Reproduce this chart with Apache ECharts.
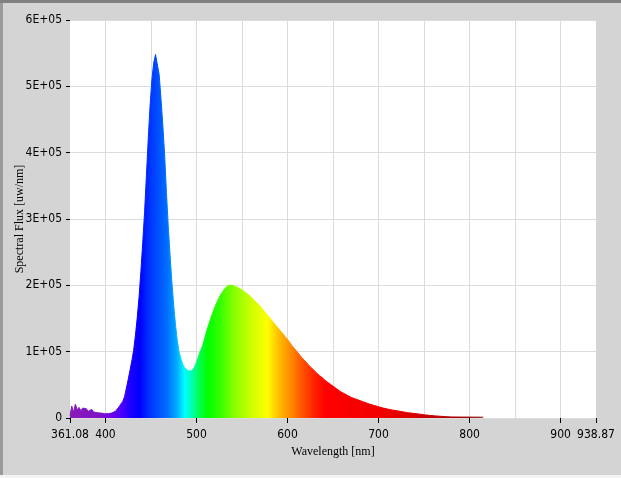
<!DOCTYPE html>
<html><head><meta charset="utf-8">
<script src="https://cdn.jsdelivr.net/npm/echarts@6/dist/echarts.min.js"></script>
<style>html,body{margin:0;padding:0;background:#d4d4d4;overflow:hidden}#c{width:621px;height:478px}</style>
</head><body><div id="c"></div>
<script>
// ---- data ----
const wavelengths = [361.08,363,365,367,369,371,373,375,377,379,381,383,385,387,389,391,393,395,397,399,401,403,405,407,409,411,413,415,417,419,421,423,425,427,429,431,433,435,437,439,441,443,445,447,449,451,453,455,456,457,459,461,463,465,467,469,471,473,475,477,479,481,483,485,487,489,491,493,495,497,499,501,503,505,507,509,511,513,515,517,519,521,523,525,527,529,531,533,535,537,539,541,543,545,548,551,554,557,560,563,566,569,572,575,578,581,584,587,590,593,596,599,602,605,608,611,614,617,620,623,626,629,632,635,638,641,644,647,650,654,658,662,666,670,674,678,682,686,690,695,700,705,710,715,720,726,732,738,744,750,756,762,768,774,780,786,792,798,804,810,815];
const flux = [4000,18000,9000,21000,12000,16000,11000,15000,12000,14000,10000,12000,13000,9000,11000,8000,9000,7500,7000,6500,6500,6500,7000,7500,8500,10000,13000,17000,21000,25000,32000,45000,58000,72000,86000,102000,125000,152000,183000,222000,265000,310000,365000,420000,470000,510000,535000,548000,550000,545000,518000,482000,442000,398000,340000,290000,245000,205000,170000,140000,116000,99000,89000,81000,76000,73000,71000,70000,71000,75000,80000,88000,96000,103000,110000,120000,130000,139000,147000,155000,163000,170000,176000,182000,187000,191000,195000,198000,200000,201000,200000,199000,198000,197000,195000,192000,189000,186000,182000,178000,174000,170000,165000,160000,155000,150000,145000,140000,135000,130000,125000,120000,115000,109000,104000,99000,94000,89000,85000,80000,76000,72000,68000,64000,61000,57000,54000,51000,48000,44000,40000,37000,34000,31000,29000,27000,25000,23000,21000,19000,17000,15000,13500,12000,11000,9500,8000,7000,6000,4800,4000,3200,2600,2000,1600,1500,1400,1400,1300,1300,1200];
const xTickLabels = [361.08,400,500,600,700,800,900,938.87];
const xGridValues = [400,450,500,550,600,650,700,750,800,850,900];
const xMin = 361.08, xMax = 938.87;
const yMin = 0, yMax = 600000, yStep = 100000;
const xTitle = 'Wavelength [nm]';
const yTitle = 'Spectral Flux [uw/nm]';
// wavelength -> display colour
const spectrumStops = [
  [361,'#8a1cb8'],[395,'#7e10c8'],[408,'#6a00e8'],[418,'#4a00ff'],[428,'#1800ff'],[438,'#0000ff'],
  [448,'#0030ff'],[458,'#0050ff'],[468,'#0070ff'],[478,'#00a8ff'],[487,'#00ffff'],[495,'#00ffb0'],
  [503,'#00ff50'],[512,'#00ff00'],[525,'#30ff00'],[540,'#80ff00'],[560,'#ccff00'],[578,'#ffff00'],
  [590,'#ffc000'],[602,'#ff9000'],[615,'#ff5800'],[630,'#ff2000'],[642,'#ff0000'],[700,'#f20000'],
  [740,'#d80000'],[775,'#b00000'],[815,'#8c1010']
];

// pick an installed narrow sans font for the tick labels
function fontInstalled(name) {
  const ctx = document.createElement('canvas').getContext('2d');
  const s = 'mmmmmmmmmmlli1234567890WWW';
  return ['monospace', 'serif'].some(base => {
    ctx.font = '40px ' + base; const w0 = ctx.measureText(s).width;
    ctx.font = '40px "' + name + '", ' + base; return ctx.measureText(s).width !== w0;
  });
}
let tickFamily = 'Liberation Sans', tickSize = 12;
for (const [f, sz] of [['Liberation Sans Narrow', 14], ['Arial Narrow', 14], ['DejaVu Sans Condensed', 12]]) {
  if (fontInstalled(f)) { tickFamily = f; tickSize = sz; break; }
}

const lo = wavelengths[0], hi = wavelengths[wavelengths.length - 1];
const gradStops = spectrumStops.map(([w, c]) => ({offset: Math.min(1, Math.max(0, (w - lo) / (hi - lo))), color: c}));
const grad = () => new echarts.graphic.LinearGradient(0, 0, 1, 0, gradStops);

const chart = echarts.init(document.getElementById('c'), null, {renderer: 'canvas'});
const tickFont = {fontFamily: '"' + tickFamily + '", sans-serif', fontSize: tickSize, color: '#000'};
const titleFont = {fontFamily: '"Liberation Serif", "DejaVu Serif", serif', fontSize: 12, color: '#000'};

chart.setOption({
  animation: false,
  backgroundColor: '#d4d4d4',
  grid: {left: 70, right: 25, top: 20, bottom: 60, outerBoundsMode: 'none', containLabel: false,
         show: true, backgroundColor: '#ffffff', borderWidth: 0},
  xAxis: [{
    type: 'value', min: xMin, max: xMax, position: 'bottom',
    name: xTitle, nameLocation: 'middle', nameGap: 28, nameMoveOverlap: false, nameTextStyle: titleFont,
    axisLine: {show: false},
    axisTick: {show: true, length: 5, customValues: xTickLabels, lineStyle: {color: '#000'}},
    axisLabel: {customValues: xTickLabels, margin: 11, ...tickFont, formatter: v => String(v)},
    splitLine: {show: false}
  }, {
    type: 'value', min: xMin, max: xMax, position: 'bottom', show: true,
    axisLine: {show: false}, axisLabel: {show: false},
    axisTick: {show: false, customValues: xGridValues},
    splitLine: {show: true, lineStyle: {color: '#dcdcdc', width: 1}}
  }],
  yAxis: {
    type: 'value', min: yMin, max: yMax, interval: yStep,
    name: yTitle, nameLocation: 'middle', nameGap: 44, nameMoveOverlap: false, nameTextStyle: titleFont,
    axisLine: {show: false},
    axisTick: {show: true, length: 4, lineStyle: {color: '#000'}},
    axisLabel: {margin: 8, ...tickFont, formatter: v => v === 0 ? '0' : (v / 100000) + 'E+05'},
    splitLine: {show: true, lineStyle: {color: '#dcdcdc', width: 1}}
  },
  series: [{
    type: 'line', xAxisIndex: 0,
    data: wavelengths.map((w, i) => [w, flux[i]]),
    showSymbol: false, symbol: 'none', smooth: false, silent: true,
    lineStyle: {width: 1, color: grad()},
    areaStyle: {color: grad(), opacity: 1}
  }],
  graphic: [
    {type: 'rect', shape: {x: 0, y: 0, width: 621, height: 3}, style: {fill: '#808080'}, z: 100},
    {type: 'rect', shape: {x: 0, y: 3, width: 3, height: 475}, style: {fill: '#9a9a9a'}, z: 100},
    {type: 'rect', shape: {x: 0, y: 475, width: 621, height: 3}, style: {fill: '#f4f4f4'}, z: 100}
  ]
});
</script></body></html>
